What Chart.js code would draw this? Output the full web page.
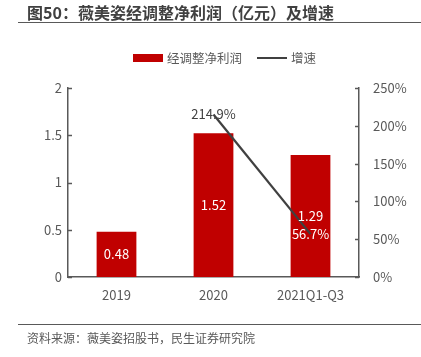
<!DOCTYPE html>
<html><head><meta charset="utf-8">
<script src="https://cdn.jsdelivr.net/npm/chart.js@4"></script>
<style>
html,body{margin:0;padding:0;background:#fff;}
body{width:421px;height:357px;position:relative;overflow:hidden;font-family:"Noto Sans CJK SC","Noto Sans",sans-serif;}
#title{position:absolute;left:27px;top:1px;font-size:16px;font-weight:bold;color:#404040;line-height:22px;white-space:nowrap;}
#rule1{position:absolute;left:18px;top:22px;width:403px;height:0;border-top:1.5px solid #595959;}
#rule2{position:absolute;left:18px;top:324px;width:403px;height:0;border-top:1.5px solid #595959;}
#source{position:absolute;left:27px;top:329px;font-size:12px;color:#595959;line-height:18px;white-space:nowrap;}
#wrap{position:absolute;left:0;top:0;width:421px;height:357px;}
</style></head>
<body>
<div id="wrap"><canvas id="c" width="421" height="357"></canvas></div>
<div id="title">图50：薇美姿经调整净利润（亿元）及增速</div>
<div id="rule1"></div>
<div id="rule2"></div>
<div id="source">资料来源：薇美姿招股书，民生证券研究院</div>
<script>
const categories = ['2019', '2020', '2021Q1-Q3'];
const profitLabel = '经调整净利润';
const growthLabel = '增速';
const profit = [0.48, 1.52, 1.29];
const growth = [null, 214.9, 56.7];
const leftTicks = [0, 0.5, 1, 1.5, 2];
const rightTicks = [0, 50, 100, 150, 200, 250];

const FONT = '"Noto Sans CJK SC","Noto Sans",sans-serif';
const TXT = '#595959';
const AX = '#595959';
const RED = '#C00000';
const LINE = '#404040';

const valueLabels = {
  id: 'valueLabels',
  afterDatasetsDraw(chart) {
    const ctx = chart.ctx;
    ctx.save();
    ctx.font = '13px ' + FONT;
    ctx.textAlign = 'center';
    ctx.textBaseline = 'middle';
    const barMeta = chart.getDatasetMeta(0);
    barMeta.data.forEach((el, i) => {
      ctx.fillStyle = '#FFFFFF';
      ctx.fillText(profit[i].toFixed(2), el.x, (el.y + el.base) / 2);
    });
    const lineMeta = chart.getDatasetMeta(1);
    lineMeta.data.forEach((el, i) => {
      if (growth[i] == null) return;
      ctx.fillStyle = i === 2 ? '#FFFFFF' : LINE;
      ctx.fillText(growth[i].toFixed(1) + '%', el.x, el.y);
    });
    ctx.restore();
  }
};

const tickMarks = {
  id: 'tickMarks',
  afterDraw(chart) {
    const ctx = chart.ctx;
    const a = chart.chartArea;
    ctx.save();
    ctx.strokeStyle = AX;
    ctx.lineWidth = 1.5;
    chart.scales.y.ticks.forEach(t => {
      const y = Math.round(chart.scales.y.getPixelForValue(t.value)) + 0.5;
      ctx.beginPath(); ctx.moveTo(a.left, y); ctx.lineTo(a.left + 4, y); ctx.stroke();
    });
    chart.scales.y1.ticks.forEach(t => {
      const y = Math.round(chart.scales.y1.getPixelForValue(t.value)) + 0.5;
      ctx.beginPath(); ctx.moveTo(a.right - 4, y); ctx.lineTo(a.right, y); ctx.stroke();
    });
    ctx.restore();
  }
};

const customLegend = {
  id: 'customLegend',
  afterDraw(chart) {
    const ctx = chart.ctx;
    ctx.save();
    ctx.font = '12.5px ' + FONT;
    ctx.textBaseline = 'middle';
    ctx.textAlign = 'left';
    const y = 58;
    ctx.fillStyle = RED;
    ctx.fillRect(133, 54, 30, 8);
    ctx.fillStyle = TXT;
    ctx.fillText(profitLabel, 167, y);
    ctx.strokeStyle = LINE;
    ctx.lineWidth = 2;
    ctx.beginPath(); ctx.moveTo(257, y); ctx.lineTo(287, y); ctx.stroke();
    ctx.fillStyle = TXT;
    ctx.fillText(growthLabel, 291, y);
    ctx.restore();
  }
};

new Chart(document.getElementById('c'), {
  type: 'bar',
  data: {
    labels: categories,
    datasets: [
      {
        type: 'bar', label: profitLabel, data: profit, yAxisID: 'y',
        backgroundColor: RED, categoryPercentage: 1, barPercentage: 0.41, order: 2
      },
      {
        type: 'line', label: growthLabel, data: growth, yAxisID: 'y1',
        borderColor: LINE, borderWidth: 2.25, pointRadius: 0, fill: false,
        tension: 0, order: 1
      }
    ]
  },
  options: {
    responsive: false,
    animation: false,
    devicePixelRatio: 1,
    layout: { padding: { top: 88, left: 28, right: 12, bottom: 50 } },
    plugins: { legend: { display: false }, tooltip: { enabled: false }, title: { display: false } },
    scales: {
      x: {
        grid: { display: false, drawTicks: false },
        border: { display: true, color: AX, width: 1.5 },
        ticks: { color: TXT, font: { family: FONT, size: 13 }, padding: 10, maxRotation: 0 },
        afterFit(s) { s.height = 30; }
      },
      y: {
        position: 'left', min: 0, max: 2,
        grid: { display: false, drawTicks: false },
        border: { display: true, color: AX, width: 1.5 },
        afterBuildTicks(s) { s.ticks = leftTicks.map(v => ({ value: v })); },
        ticks: { color: TXT, font: { family: FONT, size: 13 }, padding: 6, callback: v => String(v) },
        afterFit(s) { s.width = 40; }
      },
      y1: {
        position: 'right', min: 0, max: 250,
        grid: { display: false, drawTicks: false },
        border: { display: true, color: AX, width: 1.5 },
        afterBuildTicks(s) { s.ticks = rightTicks.map(v => ({ value: v })); },
        ticks: { color: TXT, font: { family: FONT, size: 13 }, padding: 14, callback: v => v + '%' },
        afterFit(s) { s.width = 50; }
      }
    }
  },
  plugins: [valueLabels, tickMarks, customLegend]
});
</script>
</body></html>
